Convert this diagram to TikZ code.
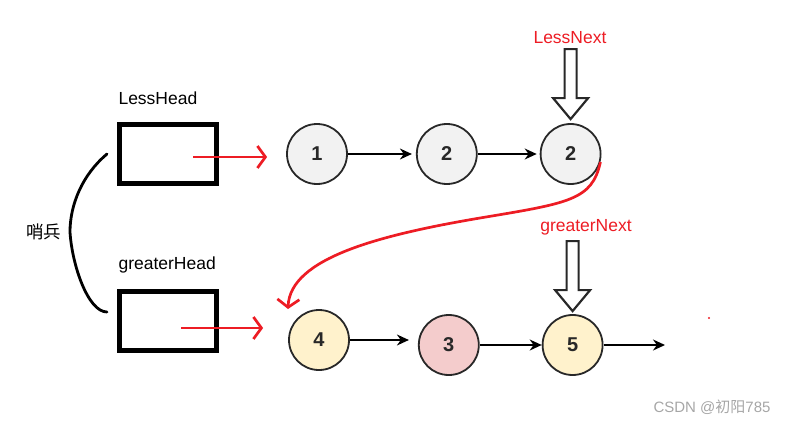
\documentclass[tikz,border=0pt]{standalone}
\usepackage{fontspec}
\setmainfont{Liberation Sans}
\newfontfamily\cjk{Noto Sans CJK SC}
\usetikzlibrary{arrows.meta, positioning}
\definecolor{inkred}{RGB}{237,28,36}
\definecolor{nodegray}{RGB}{242,242,242}
\definecolor{nodeyellow}{RGB}{255,242,204}
\definecolor{nodepink}{RGB}{244,204,204}
\definecolor{rimgray}{RGB}{40,40,40}

\begin{document}
\begin{tikzpicture}[
    x=1pt, y=-1pt,
    node distance=68pt,
    head/.style={rectangle, draw=black, line width=5pt,
                minimum width=97pt, minimum height=59pt},
    item/.style={circle, draw=rimgray, line width=1.8pt, minimum size=60pt,
                inner sep=0pt, font=\fontsize{20}{20}\selectfont\bfseries, text=rimgray},
    caption/.style={font=\fontsize{17.5}{20}\selectfont},
    tag/.style={font=\fontsize{17.5}{20}\selectfont, text=inkred},
    link/.style={-{Stealth[length=12pt,width=11pt]}, line width=1.6pt},
    hook/.style={-{Straight Barb[length=8pt,width=22pt]}, inkred, line width=2.7pt},
    pointer/.pic={\draw[line width=2.2pt, draw=rimgray, fill=white]
        (-6,-70) -- (6,-70) -- (6,-21) -- (17.5,-21) -- (0,0)
        -- (-17.5,-21) -- (-6,-21) -- cycle;}
]
    \useasboundingbox (0,0) rectangle (785,423);

    % Sentinel heads
    \node[head] (lhead) at (168,154) {};
    \node[caption, anchor=west] (lname) at (115,98) {LessHead};
    \node[head] (ghead) at (168,321) {};
    \node[caption, anchor=west] (gname) at (115,265) {greaterHead};
    \node[caption] (guard) at (44,232) {\cjk 哨兵};

    % First row - less list
    \node[item, fill=nodegray] (one) at (317,154) {1};
    \node[item, fill=nodegray, right=of one] (two) {2};
    \node[item, fill=nodegray, right=62pt of two] (lnext) {2};

    % Second row - greater list
    \node[item, fill=nodeyellow] (four) at (319,340) {4};
    \node[item, fill=nodepink, right=68pt of four, yshift=-5pt] (three) {3};
    \node[item, fill=nodeyellow, right=62pt of three] (five) {5};
    \coordinate (tail) at (665,345);

    % Pointers
    \pic at ([yshift=4pt]lnext.north) {pointer};
    \node[tag] (lesslabel) at (570,38) {LessNext};
    \pic at ([yshift=3pt]five.north) {pointer};
    \node[tag] (greaterlabel) at (586,227) {greaterNext};

    % Arrows
    \draw[link, shorten >=4pt] (one) -- (two);
    \draw[link, shorten >=3pt] (two) -- (lnext);
    \draw[link, shorten >=9pt] (four.east) -- (four.east -| three.west);
    \draw[link] (three) -- (five);
    \draw[link] (five) -- (tail);

    % Red marks
    \draw[hook] ([xshift=25pt,yshift=-3pt]lhead.center) -- ([xshift=-19pt,yshift=-3pt]one.west);
    \draw[hook] ([xshift=13pt,yshift=-7pt]ghead.center) -- ([xshift=-25pt,yshift=12pt]four.west);
    \coordinate (drop) at (288,309);
    \draw[hook] (lnext.-15) .. controls (592,200) and (570,203) .. (480,218)
        .. controls (380,235) and (290,258) .. (drop);
    \fill[inkred] (709,318) circle (1.2);

    % Brace
    \draw[line width=2.8pt, line cap=round] ([xshift=-10pt]lhead.west)
        .. controls (82,175) and (70,205) .. (70,232)
        .. controls (72,265) and (88,312) .. ([xshift=-10pt,yshift=9pt]ghead.west);

    \node[font=\fontsize{15}{18}\selectfont, text=gray!70] (mark) at (712,407) {CSDN @{\cjk 初阳}785};
\end{tikzpicture}
\end{document}
